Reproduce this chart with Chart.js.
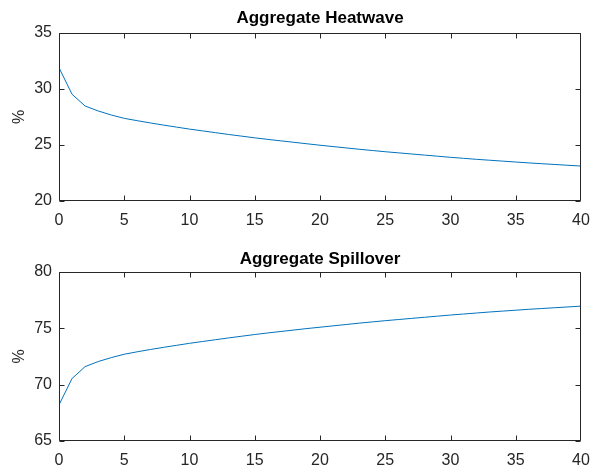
<!DOCTYPE html>
<html>
<head>
<meta charset="utf-8">
<script src="https://cdn.jsdelivr.net/npm/chart.js@4/dist/chart.umd.min.js"></script>
<style>
html,body{margin:0;padding:0;background:#fff;}
#wrap{position:relative;width:590px;height:465px;}
.box{position:absolute;left:0;width:590px;}
</style>
</head>
<body>
<div id="wrap">
  <div class="box" style="top:0;height:232px;"><canvas id="c1" width="590" height="232"></canvas></div>
  <div class="box" style="top:232px;height:233px;"><canvas id="c2" width="590" height="233"></canvas></div>
</div>
<script>
const horizons = [0,1,2,3,4,5,6,7,8,9,10,11,12,13,14,15,16,17,18,19,20,21,22,23,24,25,26,27,28,29,30,31,32,33,34,35,36,37,38,39,40];
const heatwave = [31.9,29.53,28.48,28.04,27.68,27.38,27.17,26.97,26.78,26.6,26.42,26.26,26.1,25.94,25.79,25.64,25.5,25.37,25.24,25.11,24.98,24.86,24.74,24.62,24.51,24.4,24.3,24.2,24.1,24.0,23.9,23.81,23.72,23.64,23.56,23.48,23.4,23.33,23.26,23.19,23.12];
const spillover = [68.2,70.55,71.6,72.05,72.4,72.7,72.92,73.12,73.31,73.49,73.67,73.83,73.99,74.15,74.3,74.45,74.59,74.72,74.85,74.98,75.1,75.22,75.34,75.46,75.57,75.68,75.78,75.88,75.98,76.08,76.18,76.27,76.36,76.45,76.53,76.61,76.69,76.76,76.83,76.9,76.97];
const xTicks = [0,5,10,15,20,25,30,35,40];
const topYTicks = [20,25,30,35];
const botYTicks = [65,70,75,80];
const titles = ['Aggregate Heatwave','Aggregate Spillover'];
const yLabel = '%';

const AX = '#262626';
const FONT = 'Liberation Sans, Arial, Helvetica, sans-serif';

const boxTicks = {
  id: 'boxTicks',
  afterDatasetsDraw(chart) {
    const {ctx, chartArea: a, scales} = chart;
    const L = 5;
    ctx.save();
    ctx.strokeStyle = AX;
    ctx.lineWidth = 1;
    ctx.beginPath();
    const l = Math.round(a.left) + 0.5, r = Math.round(a.right) - 0.5;
    const t = Math.round(a.top) + 0.5, b = Math.round(a.bottom) - 0.5;
    ctx.rect(l, t, r - l, b - t);
    scales.x.ticks.forEach(tk => {
      const px = Math.min(Math.round(scales.x.getPixelForValue(tk.value)) + 0.5, r);
      ctx.moveTo(px, b); ctx.lineTo(px, b - L);
      ctx.moveTo(px, t); ctx.lineTo(px, t + L);
    });
    scales.y.ticks.forEach(tk => {
      const py = Math.round(scales.y.getPixelForValue(tk.value)) + 0.5;
      ctx.moveTo(l, py); ctx.lineTo(l + L, py);
      ctx.moveTo(r, py); ctx.lineTo(r - L, py);
    });
    ctx.stroke();
    ctx.restore();
  }
};

function makeChart(id, values, yTicks, title, titleTop, titleBottom, xAxisH) {
  return new Chart(document.getElementById(id), {
    type: 'line',
    data: {
      datasets: [{
        data: horizons.map((h, i) => ({x: h, y: values[i]})),
        borderColor: '#0072BD',
        borderWidth: 1,
        pointRadius: 0,
        fill: false,
        tension: 0
      }]
    },
    options: {
      responsive: false,
      animation: false,
      events: [],
      layout: {padding: {left: 0, right: 9, top: 0, bottom: 0}},
      plugins: {
        legend: {display: false},
        tooltip: {enabled: false},
        title: {
          display: true,
          text: title,
          fullSize: false,
          color: '#000',
          font: {family: FONT, size: 17, weight: 'bold', lineHeight: 1.2},
          padding: {top: titleTop, bottom: titleBottom}
        }
      },
      scales: {
        x: {
          type: 'linear',
          min: 0, max: 40,
          afterBuildTicks: s => { s.ticks = xTicks.map(v => ({value: v})); },
          afterFit: s => { s.height = xAxisH; s.paddingRight = 0; s.paddingLeft = 0; },
          grid: {display: false, drawTicks: false},
          border: {display: false},
          ticks: {color: AX, font: {family: FONT, size: 16}, padding: 10, maxRotation: 0}
        },
        y: {
          type: 'linear',
          min: yTicks[0], max: yTicks[yTicks.length - 1],
          afterBuildTicks: s => { s.ticks = yTicks.map(v => ({value: v})); },
          afterFit: s => { s.width = 59; },
          grid: {display: false, drawTicks: false},
          border: {display: false},
          ticks: {color: AX, font: {family: FONT, size: 16}, padding: 7},
          title: {display: true, text: yLabel, color: AX, font: {family: FONT, size: 16}, padding: {top: 10, bottom: 0}}
        }
      }
    },
    plugins: [boxTicks]
  });
}

makeChart('c1', heatwave, topYTicks, titles[0], 8.6, 4, 31);
makeChart('c2', spillover, botYTicks, titles[1], 16.9, 2.7, 24);
</script>
</body>
</html>
